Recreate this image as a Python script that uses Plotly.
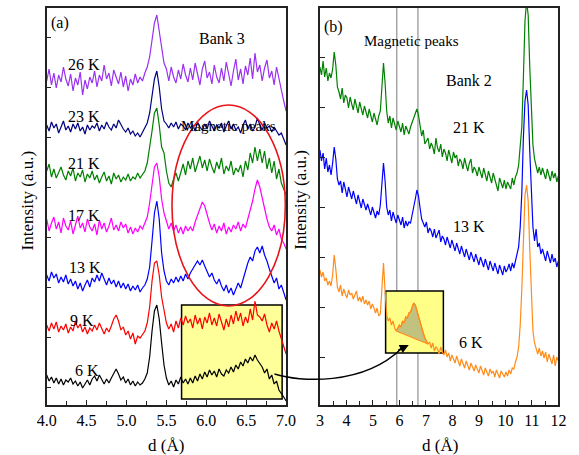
import plotly.graph_objects as go

W, H = 579, 455
FONT = "Liberation Serif"

# ---------------- Panel (a): Bank 3 ----------------
d_a = [round(4.00 + 0.03 * i, 2) for i in range(101)]

bank3_26K = [30.6, 31.8, 30.2, 31.4, 29.9, 31.2, 30.5, 32.0, 30.8, 30.1,
             31.3, 29.6, 30.9, 30.2, 31.5, 29.2, 30.7, 29.8, 31.0, 30.4,
             31.6, 30.0, 31.2, 30.6, 32.2, 30.8, 31.4, 30.1, 31.7, 30.9,
             30.3, 31.5, 30.0, 31.1, 29.6, 30.8, 30.2, 31.3, 30.4, 31.0,
             30.6, 31.4, 32.0, 33.0, 34.6, 36.4, 37.2, 35.6, 33.6, 32.4,
             31.8, 30.6, 32.0, 31.0, 30.4, 31.7, 30.8, 32.3, 31.2, 30.5,
             31.9, 30.7, 32.4, 31.1, 30.2, 31.8, 32.6, 30.9, 31.5, 30.3,
             32.2, 31.0, 30.4, 31.9, 30.6, 32.5, 31.3, 30.1, 31.6, 32.8,
             30.7, 31.8, 30.3, 32.1, 31.2, 32.9, 30.8, 33.4, 31.5, 32.2,
             30.6, 31.9, 32.7, 30.9, 31.6, 30.2, 32.0, 30.8, 29.6, 28.6,
             27.6]
bank3_23K = [26.2, 25.6, 26.5, 25.9, 26.3, 25.4, 26.0, 26.6, 25.7, 26.1,
             25.5, 26.3, 25.8, 26.4, 25.6, 26.0, 25.3, 26.2, 25.7, 26.1,
             25.9, 26.4, 25.6, 26.2, 25.8, 26.5, 26.0, 25.7, 26.3, 25.9,
             26.7, 26.2, 25.8, 25.5, 25.9, 25.3, 25.6, 25.1, 25.4, 25.0,
             25.5, 25.9, 26.4, 27.4, 29.0, 30.8, 31.6, 30.0, 27.8, 26.6,
             26.3, 25.9, 26.4, 26.0, 26.5, 25.8, 26.3, 26.1, 25.7, 26.4,
             25.9, 26.2, 25.6, 26.5, 26.0, 25.7, 26.3, 25.8, 26.6, 26.0,
             25.6, 26.2, 25.9, 26.4, 25.5, 26.1, 26.6, 25.8, 26.3, 25.7,
             26.0, 25.4, 26.2, 26.7, 25.8, 26.3, 25.6, 26.0, 26.9, 26.2,
             25.7, 26.4, 25.9, 26.1, 25.5, 26.0, 25.6, 25.2, 25.4, 24.8,
             24.2]
bank3_21K = [21.6, 22.3, 21.0, 21.8, 20.9, 21.5, 22.0, 21.2, 20.7, 21.6,
             21.1, 21.9, 20.6, 21.4, 21.0, 21.7, 20.5, 21.3, 20.9, 21.6,
             20.7, 21.2, 20.4, 21.0, 21.5, 20.6, 21.1, 20.3, 21.4, 20.8,
             21.2, 20.5, 21.0, 20.7, 21.3, 20.6, 21.0, 20.8, 21.4, 20.9,
             21.2, 21.6, 22.4, 23.8, 25.6, 27.4, 27.9, 26.2, 24.0, 23.4,
             21.6, 20.4, 20.0, 20.8, 21.4, 20.6, 21.6, 22.3, 21.2, 22.6,
             21.8, 22.9, 21.5, 22.4, 23.1, 21.9, 22.7, 21.6, 22.8, 22.0,
             21.4, 22.5, 21.8, 22.9, 21.3, 22.1, 21.6, 22.6, 21.2, 21.9,
             21.5, 22.2, 21.0, 22.6, 21.7, 23.4, 22.4, 24.0, 22.6, 23.8,
             22.4, 23.6, 21.8, 22.9, 21.4, 22.6, 20.8, 21.8, 20.4, 19.8,
             19.2]
bank3_17K = [16.8, 15.6, 16.4, 17.0, 15.8, 16.5, 15.4, 16.9, 16.1, 15.7,
             16.6, 15.3, 16.2, 17.1, 15.9, 16.4, 15.5, 16.8, 16.0, 15.6,
             16.3, 15.2, 16.7, 15.8, 16.4, 15.5, 16.1, 16.9, 15.7, 16.2,
             15.6, 16.5, 15.9, 16.3, 15.4, 16.0, 15.3, 15.9, 15.5, 16.1,
             15.8, 16.4, 17.0, 18.4, 20.4, 22.0, 22.4, 21.0, 18.8, 17.4,
             16.6, 15.8, 16.4, 15.6, 16.2, 15.4, 16.0, 15.3, 16.1, 15.6,
             16.0, 15.6, 16.5, 17.2, 18.0, 18.5, 18.1, 17.2, 16.4, 15.7,
             16.3, 15.4, 16.1, 15.6, 16.4, 15.3, 16.0, 15.5, 16.2, 15.8,
             16.5, 15.6, 16.3, 15.9, 16.8, 17.6, 18.6, 19.8, 20.7, 20.0,
             18.9, 17.6, 16.8, 16.0, 15.6, 16.2, 15.2, 15.8, 14.8, 14.4,
             13.8]
bank3_13K = [11.2, 10.6, 11.5, 10.9, 11.3, 10.4, 11.0, 10.5, 11.2, 10.3,
             10.8, 10.1, 10.6, 9.8, 10.4, 9.6, 10.2, 10.7, 10.0, 10.9,
             10.5, 11.2, 10.6, 11.4, 10.8, 10.2, 10.9, 10.3, 10.7, 10.0,
             10.6, 9.9, 10.4, 9.8, 10.3, 9.6, 10.1, 9.7, 10.2, 9.5,
             9.9, 10.2, 10.8, 12.0, 14.6, 17.4, 18.6, 16.8, 13.4, 11.6,
             10.6, 10.2, 10.8, 10.4, 11.0, 10.5, 11.1, 10.6, 11.3, 10.8,
             11.4, 11.8, 12.3, 12.6, 12.2, 12.7, 12.1, 11.6, 11.0, 11.4,
             10.7, 10.3, 10.8, 10.1, 9.6, 10.2, 9.4, 9.9, 9.2, 9.8,
             10.4, 9.9, 10.8, 11.6, 12.4, 13.0, 12.6, 13.6, 14.0, 13.4,
             14.1, 13.2, 12.6, 11.8, 11.0, 10.4, 10.9, 9.8, 10.2, 9.4,
             8.7]
bank3_9K = [6.2, 5.6, 6.4, 5.8, 6.5, 5.5, 6.1, 5.7, 6.3, 5.4,
            6.0, 5.6, 6.6, 5.9, 6.3, 5.5, 6.0, 5.3, 5.9, 5.6,
            6.2, 5.7, 6.4, 5.8, 5.3, 5.9, 5.5, 6.1, 6.8, 7.2,
            6.6, 5.7, 6.0, 5.2, 5.6, 4.8, 5.4, 4.3, 5.1, 4.9,
            5.3, 5.6, 6.4, 8.0, 10.6, 12.4, 12.6, 11.2, 9.0, 7.6,
            6.4, 5.8, 6.3, 5.5, 6.6, 5.9, 6.9, 6.2, 7.1, 6.4,
            6.8, 5.9, 7.2, 6.3, 6.9, 5.8, 7.0, 6.4, 7.4, 6.2,
            6.9, 6.1, 7.3, 6.5, 5.7, 6.8, 6.0, 7.2, 6.3, 7.6,
            6.6, 7.4, 6.1, 7.0, 6.4, 7.8, 6.7, 8.6, 7.2, 7.0,
            6.6, 7.3, 6.2, 5.5, 6.4, 5.8, 6.6, 5.6, 4.8, 4.0,
            3.3]
bank3_6K = [1.2, 0.6, 1.0, 0.4, 0.9, 0.3, 0.8, 0.2, 0.7, 0.5,
            0.9, 0.3, 0.6, 0.1, 0.5, -0.1, 0.3, 0.7, 0.2, 0.8,
            1.1, 0.6, 1.2, 0.7, 0.3, 0.8, 0.4, 0.9, 1.4, 1.8,
            1.3, 0.7, 1.0, 0.4, 0.8, 0.2, 0.6, 0.1, 0.5, 0.2,
            0.4, 0.8, 1.4, 3.0, 5.6, 7.6, 8.2, 6.8, 4.4, 2.2,
            0.9, 0.2, 0.6, 0.0, 0.7, 0.3, 1.0, 0.4, 0.8, 0.3,
            0.9, 0.4, 1.1, 0.6, 1.3, 0.8, 1.5, 1.0, 1.7, 1.2,
            1.6, 1.0, 1.8, 1.3, 1.1, 1.7, 1.4, 2.0, 1.5, 2.2,
            1.8, 2.5, 2.1, 2.8, 2.4, 3.0, 2.6, 3.2, 2.7, 2.4,
            2.0, 1.4, 1.8, 0.8, 1.2, 0.3, 0.6, -0.3, -0.6, -1.0,
            -1.4]

series_a = [("26 K", bank3_26K, "#9A30F0"), ("23 K", bank3_23K, "#000080"),
            ("21 K", bank3_21K, "#008000"), ("17 K", bank3_17K, "#FF00FF"),
            ("13 K", bank3_13K, "#0000FF"), ("9 K", bank3_9K, "#FF0000"),
            ("6 K", bank3_6K, "#000000")]

# ---------------- Panel (b): Bank 2 ----------------
d_b = [round(3.00 + 0.06 * i, 2) for i in range(151)]

bank2_21K = [29.0, 28.2, 29.6, 28.0, 28.9, 27.6, 28.4, 27.9, 28.8, 30.5,
             29.2, 27.0, 26.5, 25.8, 26.9, 25.4, 26.2, 25.9, 24.9, 26.0,
             25.3, 24.7, 25.8, 24.9, 24.4, 25.5, 24.8, 24.2, 25.1, 24.6,
             23.9, 24.8, 24.1, 23.5, 24.4, 23.8, 23.2, 24.1, 24.6, 27.0,
             29.4, 27.4, 24.6, 23.4, 24.1, 22.9, 23.9, 23.3, 22.7, 23.6,
             23.0, 22.5, 23.4, 22.2, 23.1, 22.7, 22.3, 23.0, 23.4, 23.9,
             24.3, 24.8, 24.2, 23.2, 22.1, 22.7, 21.3, 21.6, 21.9, 20.8,
             21.4, 21.0, 20.3, 21.9, 20.9, 20.5, 21.3, 20.0, 20.8, 20.4,
             19.6, 20.7, 20.1, 19.4, 20.5, 19.9, 20.2, 19.1, 19.8, 19.5,
             18.8, 19.9, 19.2, 18.6, 19.4, 19.8, 18.4, 19.0, 18.7, 18.1,
             19.0, 18.3, 17.9, 18.9, 18.2, 17.6, 18.6, 18.0, 17.4, 18.4,
             17.8, 17.2, 16.6, 17.9, 17.3, 16.9, 17.7, 16.8, 17.5, 17.1,
             16.8, 17.9, 17.2, 18.0, 18.4, 19.2, 20.8, 23.0, 28.0, 33.6,
             35.6, 34.2, 29.0, 24.0, 21.2, 19.8, 19.2, 18.4, 19.0, 18.2,
             18.9, 18.3, 17.8, 18.8, 18.1, 17.6, 18.6, 17.9, 18.4, 17.5,
             18.1]
bank2_13K = [20.7, 19.6, 20.4, 18.8, 19.9, 18.5, 19.2, 18.2, 19.4, 21.0,
             19.8, 17.8, 17.2, 17.6, 16.4, 17.5, 16.8, 16.0, 17.0, 16.3,
             15.8, 16.6, 15.9, 15.3, 16.2, 15.6, 14.9, 15.8, 15.1, 14.7,
             15.3, 14.6, 14.2, 15.0, 14.4, 13.9, 14.6, 14.2, 15.2, 17.4,
             19.4, 17.6, 15.0, 14.2, 14.7, 13.6, 14.5, 13.9, 13.4, 14.2,
             13.6, 13.2, 14.0, 12.9, 13.6, 13.1, 13.5, 13.4, 14.2, 14.9,
             15.8, 16.7, 16.1, 14.9, 13.8, 13.4, 13.0, 13.5, 12.4, 12.9,
             12.6, 12.0, 12.8, 11.9, 12.3, 12.7, 11.5, 12.1, 11.8, 11.2,
             12.0, 11.4, 10.9, 11.7, 11.1, 10.6, 11.4, 10.8, 10.3, 11.1,
             10.5, 10.0, 10.8, 10.2, 9.7, 10.5, 9.9, 9.5, 10.3, 9.7,
             9.2, 10.0, 9.4, 9.0, 9.8, 9.3, 8.7, 9.6, 9.1, 8.6,
             9.4, 8.9, 8.3, 9.2, 8.7, 8.2, 9.1, 8.5, 8.8, 9.3,
             8.6, 9.4, 8.9, 9.7, 10.2, 11.0, 13.0, 16.4, 22.0, 25.6,
             26.7, 25.2, 20.6, 15.8, 13.0, 11.6, 12.8, 11.0, 11.4, 10.3,
             10.8, 10.2, 9.6, 10.6, 9.9, 9.4, 10.3, 9.5, 9.9, 9.0,
             9.6]
bank2_6K = [8.7, 8.0, 8.5, 7.6, 7.9, 7.2, 7.6, 7.1, 8.2, 10.2,
            8.8, 7.0, 6.5, 7.2, 6.1, 6.8, 6.3, 5.9, 6.7, 6.2,
            6.4, 5.8, 6.2, 6.6, 5.6, 6.0, 5.5, 6.1, 5.3, 5.7,
            5.2, 5.6, 4.8, 5.3, 4.9, 4.4, 4.9, 4.1, 4.3, 6.4,
            9.4, 6.6, 4.2, 3.6, 3.9, 3.2, 3.6, 2.9, 2.6, 2.9,
            3.2, 3.0, 3.6, 3.4, 4.0, 3.9, 4.4, 4.5, 5.0, 5.4,
            5.2, 4.6, 4.0, 3.4, 2.9, 2.4, 1.9, 1.6, 1.3, 1.5,
            0.9, 1.4, 0.6, 1.0, 0.8, 0.3, 1.0, 0.5, 0.2, 0.7,
            0.0, 0.4, -0.4, 0.2, -0.2, -0.6, 0.1, -0.5, -0.9, -0.2,
            -0.7, -1.1, -0.4, -0.9, -1.3, -0.6, -1.0, -1.4, -0.8, -1.2,
            -1.6, -0.9, -1.3, -1.8, -1.1, -1.5, -1.9, -1.2, -1.6, -1.4,
            -2.0, -1.3, -1.7, -2.1, -1.4, -1.8, -2.0, -1.5, -1.9, -1.3,
            -1.7, -1.1, -1.2, -0.5, 0.0, 1.0, 3.2, 6.8, 12.0, 16.2,
            17.2, 15.6, 10.8, 5.6, 2.6, 1.4, 0.8, 0.3, 0.9, 0.1,
            0.6, -0.1, 0.5, -0.5, 0.3, -0.2, -0.7, 0.2, -0.9, 0.0,
            -0.4]

series_b = [("21 K", bank2_21K, "#008000"), ("13 K", bank2_13K, "#0000FF"),
            ("6 K", bank2_6K, "#FF8C1A")]

mag_peaks = [5.9, 6.7]          # vertical guide lines in panel (b)
peak_window = (48, 68)          # index range of the shaded magnetic peak (6 K)


def px(x, y):
    return x / W, 1 - y / H


fig = go.Figure()

for name, ys, col in series_a:
    fig.add_trace(go.Scatter(x=d_a, y=ys, mode="lines", name=name,
                             line=dict(color=col, width=1.2),
                             xaxis="x", yaxis="y", showlegend=False))

# shaded magnetic peak area (6 K, bank 2)
i0, i1 = peak_window
sx = d_b[i0:i1 + 1] + [d_b[i0]]
sy = bank2_6K[i0:i1 + 1] + [bank2_6K[i0]]
fig.add_trace(go.Scatter(x=sx, y=sy, mode="lines", fill="toself",
                         fillcolor="rgba(120,120,120,0.45)",
                         line=dict(color="#FF8C1A", width=1.2),
                         xaxis="x2", yaxis="y2", showlegend=False))

for name, ys, col in series_b:
    fig.add_trace(go.Scatter(x=d_b, y=ys, mode="lines", name=name,
                             line=dict(color=col, width=1.2),
                             xaxis="x2", yaxis="y2", showlegend=False))

dom_a = [38 / W, 286 / W]
dom_b = [321 / W, 568 / W]
dom_y = [1 - 405 / H, 1 - 8 / H]

axis_common = dict(showline=True, linecolor="#222", linewidth=1.5, mirror=True,
                   ticks="inside", ticklen=5, tickwidth=1, tickcolor="#222",
                   showgrid=False, zeroline=False,
                   tickfont=dict(family=FONT, size=16, color="black"))

fig.update_layout(
    width=W, height=H, margin=dict(l=0, r=0, t=0, b=0),
    paper_bgcolor="white", plot_bgcolor="white",
    xaxis=dict(domain=dom_a, range=[4.0, 7.0], tick0=4.0, dtick=0.5,
               tickformat=".1f", minor=dict(dtick=0.25, ticks="inside", ticklen=4,
                                            tickcolor="#222", showgrid=False),
               anchor="y", **axis_common),
    yaxis=dict(domain=dom_y, range=[-1.8, 37.9], tickvals=[0, 5, 10, 15, 20, 25, 30, 35],
               showticklabels=False, anchor="x", **axis_common),
    xaxis2=dict(domain=dom_b, range=[3, 12], tick0=3, dtick=1,
                minor=dict(dtick=0.5, ticks="inside", ticklen=4,
                           tickcolor="#222", showgrid=False),
                anchor="y2", **axis_common),
    yaxis2=dict(domain=dom_y, range=[-4.8, 34.9], tickvals=[0, 5, 10, 15, 20, 25, 30],
                showticklabels=False, anchor="x2", **axis_common),
)

shapes = [
    dict(type="rect", xref="x", yref="y", x0=5.69, x1=6.95, y0=-1.2, y1=8.2,
         fillcolor="#FFFF99", line=dict(color="black", width=1.5), layer="below"),
    dict(type="circle", xref="x", yref="y", x0=5.57, x1=6.99, y0=8.1, y1=28.2,
         line=dict(color="#E8141A", width=1.6)),
    dict(type="rect", xref="x2", yref="y2", x0=5.48, x1=7.66, y0=0.4, y1=6.6,
         fillcolor="#FFFF88", line=dict(color="black", width=1.5), layer="below"),
]
for m in mag_peaks:
    shapes.append(dict(type="line", xref="x2", yref="y2 domain", x0=m, x1=m, y0=0, y1=1,
                       line=dict(color="#999", width=1.3), layer="below"))

# curved arrow from panel (a) box to panel (b) box
p0, c1, c2, p3 = px(274, 374), px(300, 382), px(365, 386), px(405, 349)
path = "M {},{} C {},{} {},{} {},{}".format(*p0, *c1, *c2, *p3)
shapes.append(dict(type="path", xref="paper", yref="paper", path=path,
                   line=dict(color="black", width=1.5)))
fig.update_layout(shapes=shapes)

ann = []


def text(x, y, s, size=16):
    xx, yy = px(x, y)
    ann.append(dict(x=xx, y=yy, xref="paper", yref="paper", text=s, showarrow=False,
                    xanchor="center", yanchor="middle",
                    font=dict(family=FONT, size=size, color="black")))


labels_a = [(77, 65), (77, 117), (77, 163), (77, 215), (78, 267), (75, 320), (80, 370)]
for (name, _, _), (x, y) in zip(series_a, labels_a):
    text(x, y, name)
labels_b = [(475, 127), (475, 226), (478, 342)]
for (name, _, _), (x, y) in zip(series_b, labels_b):
    text(x, y, name)

text(52, 23, "(a)")
text(220, 38, "Bank 3")
text(226, 126, "Magnetic peaks", 15)
text(335, 27, "(b)")
text(416, 41, "Magnetic peaks", 15)
text(475, 80, "Bank 2")
text(162, 445, "d (Å)", 17)
text(445, 445, "d (Å)", 17)

for xpos in (18, 300):
    xx, yy = px(xpos, 200)
    ann.append(dict(x=xx, y=yy, xref="paper", yref="paper", text="Intensity (a.u.)",
                    showarrow=False, textangle=-90, xanchor="center", yanchor="middle",
                    font=dict(family=FONT, size=17, color="black")))

tip = px(413, 345)
ann.append(dict(x=tip[0], y=tip[1], xref="paper", yref="paper", text="", showarrow=True,
                ax=-12, ay=6, arrowhead=2, arrowsize=1.2, arrowwidth=1.5,
                arrowcolor="black"))

fig.update_layout(annotations=ann)
fig.write_html("out.html", config={"displayModeBar": False},
               post_script="document.body.style.margin='0';"
                           "document.body.style.overflow='hidden';")
